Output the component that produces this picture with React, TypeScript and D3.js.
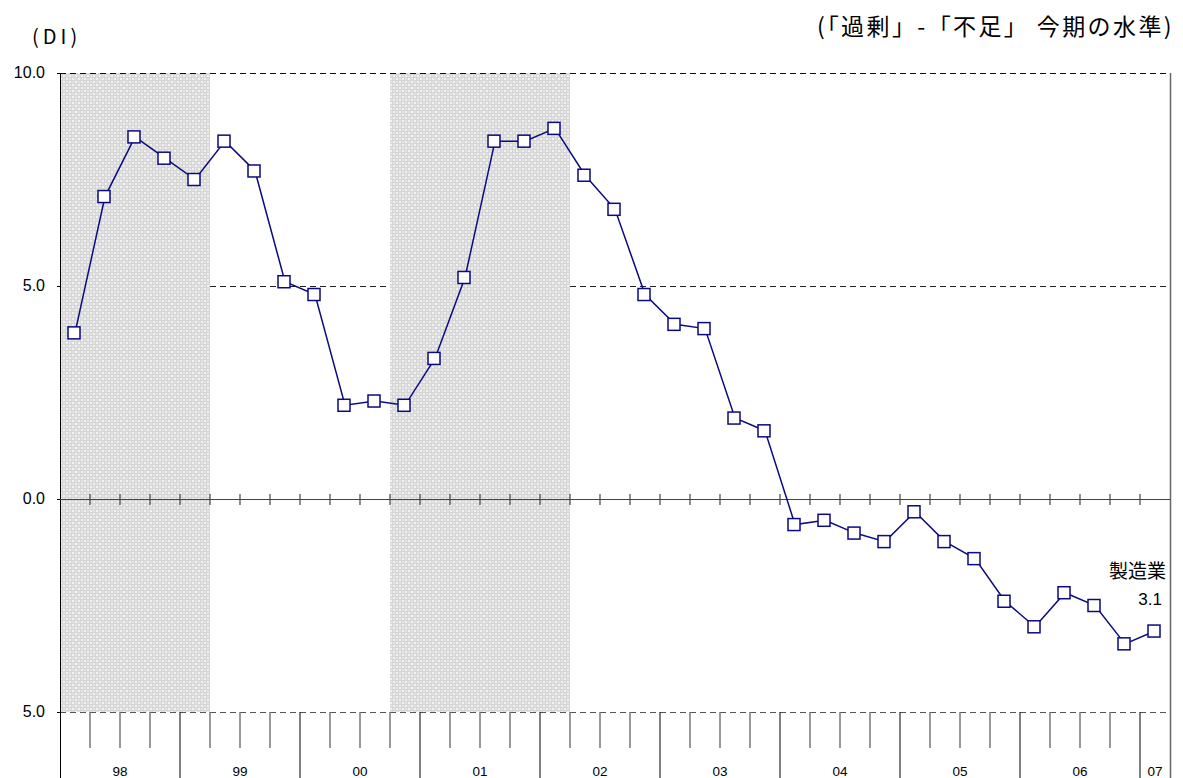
import React, { useEffect, useRef } from 'react';
import * as d3 from 'd3';

// 1998Q1 .. 2007Q1
const quarters = [
  '98Q1', '98Q2', '98Q3', '98Q4', '99Q1', '99Q2', '99Q3', '99Q4',
  '00Q1', '00Q2', '00Q3', '00Q4', '01Q1', '01Q2', '01Q3', '01Q4',
  '02Q1', '02Q2', '02Q3', '02Q4', '03Q1', '03Q2', '03Q3', '03Q4',
  '04Q1', '04Q2', '04Q3', '04Q4', '05Q1', '05Q2', '05Q3', '05Q4',
  '06Q1', '06Q2', '06Q3', '06Q4', '07Q1',
];
const values = [
  3.9, 7.1, 8.5, 8.0, 7.5, 8.4, 7.7, 5.1,
  4.8, 2.2, 2.3, 2.2, 3.3, 5.2, 8.4, 8.4,
  8.7, 7.6, 6.8, 4.8, 4.1, 4.0, 1.9, 1.6,
  -0.6, -0.5, -0.8, -1.0, -0.3, -1.0, -1.4, -2.4,
  -3.0, -2.2, -2.5, -3.4, -3.1,
];
const years = ['98', '99', '00', '01', '02', '03', '04', '05', '06', '07'];
const yTicks = [10, 5, 0, -5];
const yTickLabels = ['10.0', '5.0', '0.0', '5.0'];
// shaded (recession) periods, inclusive quarters
const shadedFrom = ['98Q1', '00Q4'];
const shadedTo = ['99Q1', '02Q1'];

const seriesName = '製造業';
const lastLabel = '3.1';
const unitLabel = '(DI)';
const titleText = '(「過剰」-「不足」 今期の水準)';

const W = 1183;
const H = 778;
const num = '"Liberation Sans", Arial, sans-serif';
const jp = '"Noto Sans CJK JP", sans-serif';

const App: React.FC = () => {
  const svgRef = useRef<SVGSVGElement>(null);

  useEffect(() => {
    if (!svgRef.current) return;
    const svg = d3.select(svgRef.current);
    svg.selectAll('*').remove();

    const left = 60;
    const right = 1170;
    const top = 73;
    const bottom = 712;

    const x = d3.scaleLinear().domain([0, quarters.length]).range([left, right]);
    const y = d3.scaleLinear().domain([-5, 10]).range([bottom, top]);
    const idx = (q: string) => quarters.indexOf(q);

    // pattern for shading
    const defs = svg.append('defs');
    const pat = defs.append('pattern')
      .attr('id', 'hatch')
      .attr('patternUnits', 'userSpaceOnUse')
      .attr('width', 6).attr('height', 6);
    pat.append('rect').attr('width', 6).attr('height', 6).attr('fill', '#d6d6d6');
    pat.append('rect').attr('x', 0).attr('y', 0).attr('width', 2).attr('height', 2).attr('fill', '#f2f2f2');
    pat.append('rect').attr('x', 3).attr('y', 3).attr('width', 2).attr('height', 2).attr('fill', '#f2f2f2');
    pat.append('rect').attr('x', 3).attr('y', 0).attr('width', 2).attr('height', 2).attr('fill', '#e2e2e2');
    pat.append('rect').attr('x', 0).attr('y', 3).attr('width', 2).attr('height', 2).attr('fill', '#e2e2e2');

    // 5.0 grid line (under shading)
    svg.append('line')
      .attr('x1', left).attr('x2', right)
      .attr('y1', y(5) + 0.5).attr('y2', y(5) + 0.5)
      .attr('stroke', '#222').attr('stroke-width', 1)
      .attr('stroke-dasharray', '6,4');

    // shading
    shadedFrom.forEach((f, i) => {
      const x0 = x(idx(f));
      const x1 = x(idx(shadedTo[i]) + 1);
      svg.append('rect')
        .attr('x', x0).attr('y', y(10))
        .attr('width', x1 - x0).attr('height', y(-5) - y(10))
        .attr('fill', 'url(#hatch)');
    });

    // top / bottom dashed lines
    [10, -5].forEach((v) => {
      svg.append('line')
        .attr('x1', left).attr('x2', right)
        .attr('y1', y(v) + 0.5).attr('y2', y(v) + 0.5)
        .attr('stroke', v === 10 ? '#111' : '#555').attr('stroke-width', 1)
        .attr('stroke-dasharray', '6,4');
    });

    // left axis and right border
    svg.append('line')
      .attr('x1', left + 0.5).attr('x2', left + 0.5)
      .attr('y1', top).attr('y2', H)
      .attr('stroke', '#000').attr('stroke-width', 1);
    svg.append('line')
      .attr('x1', right + 0.5).attr('x2', right + 0.5)
      .attr('y1', top).attr('y2', H)
      .attr('stroke', '#666').attr('stroke-width', 1.5);

    // y ticks + labels
    yTicks.forEach((v, i) => {
      svg.append('line')
        .attr('x1', left - 3).attr('x2', left)
        .attr('y1', y(v) + 0.5).attr('y2', y(v) + 0.5)
        .attr('stroke', '#000');
      svg.append('text')
        .attr('x', 45).attr('y', y(v) + 5)
        .attr('text-anchor', 'end')
        .style('font-family', num).style('font-size', '16px')
        .attr('fill', '#000')
        .text(yTickLabels[i]);
    });

    // zero line with quarter ticks
    svg.append('line')
      .attr('x1', left).attr('x2', right)
      .attr('y1', y(0) + 0.5).attr('y2', y(0) + 0.5)
      .attr('stroke', '#444').attr('stroke-width', 1.2);
    d3.range(1, quarters.length).forEach((i) => {
      svg.append('line')
        .attr('x1', x(i)).attr('x2', x(i))
        .attr('y1', y(0) - 5).attr('y2', y(0) + 6)
        .attr('stroke', '#444').attr('stroke-width', 1.2);
    });

    // bottom quarter ticks and year separators
    quarters.forEach((q, i) => {
      if (i === 0) return;
      const isYear = q.endsWith('Q1');
      svg.append('line')
        .attr('x1', x(i)).attr('x2', x(i))
        .attr('y1', bottom).attr('y2', isYear ? H : 748)
        .attr('stroke', isYear ? '#000' : '#777')
        .attr('stroke-width', isYear ? 1 : 1.5);
    });

    // year labels
    years.forEach((yr) => {
      const qs = quarters.filter((q) => q.startsWith(yr));
      const x0 = x(idx(qs[0]));
      const x1 = x(idx(qs[qs.length - 1]) + 1);
      svg.append('text')
        .attr('x', (x0 + x1) / 2).attr('y', 776)
        .attr('text-anchor', 'middle')
        .style('font-family', num).style('font-size', '13.5px')
        .attr('fill', '#000')
        .text(yr);
    });

    // series line
    const line = d3.line<number>()
      .x((_, i) => x(i + 0.5))
      .y((d) => y(d));
    svg.append('path')
      .datum(values)
      .attr('d', line)
      .attr('fill', 'none')
      .attr('stroke', '#0a0a82')
      .attr('stroke-width', 1.5);

    // markers
    const ms = 12;
    svg.selectAll('rect.mk')
      .data(values)
      .enter()
      .append('rect')
      .attr('class', 'mk')
      .attr('x', (_, i) => x(i + 0.5) - ms / 2 - 1)
      .attr('y', (d) => y(d) - ms / 2)
      .attr('width', ms).attr('height', ms)
      .attr('fill', '#fff')
      .attr('stroke', '#0a0a82')
      .attr('stroke-width', 1.5);

    // series label
    svg.append('text')
      .attr('x', 1166).attr('y', 578)
      .attr('text-anchor', 'end')
      .style('font-family', jp).style('font-size', '19px')
      .attr('fill', '#000')
      .text(seriesName);
    svg.append('text')
      .attr('x', 1162).attr('y', 605)
      .attr('text-anchor', 'end')
      .style('font-family', num).style('font-size', '17px')
      .attr('fill', '#000')
      .text(lastLabel);

    // unit label + title
    svg.append('text')
      .attr('x', 32).attr('y', 44)
      .style('font-family', jp).style('font-size', '20px')
      .style('letter-spacing', '4px')
      .attr('fill', '#000')
      .text(unitLabel);
    svg.append('text')
      .attr('x', 1174).attr('y', 35)
      .attr('text-anchor', 'end')
      .style('font-family', jp).style('font-size', '23px')
      .style('letter-spacing', '2.4px')
      .attr('fill', '#000')
      .text(titleText);
  }, []);

  return (
    <svg
      ref={svgRef}
      width={W}
      height={H}
      style={{ position: 'absolute', left: 0, top: 0, display: 'block', background: '#fff' }}
    />
  );
};

export default App;
